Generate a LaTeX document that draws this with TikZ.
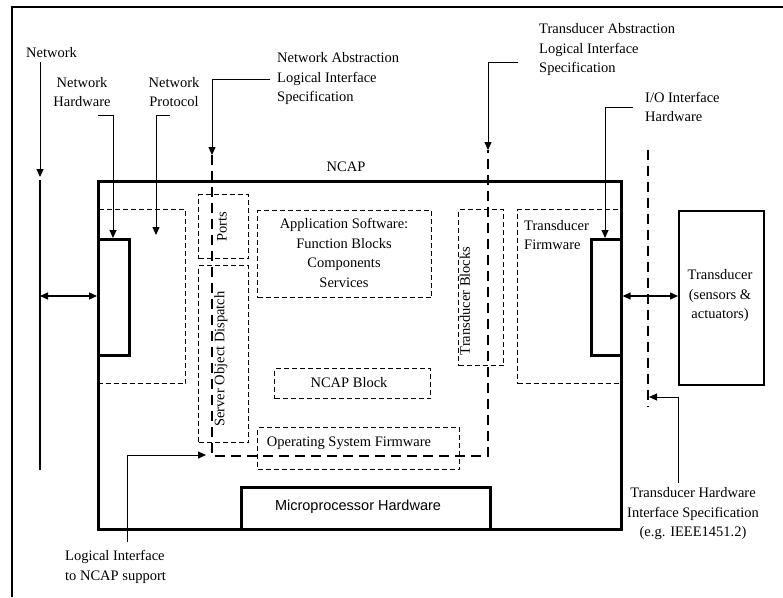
\documentclass[tikz,border=0pt]{standalone}
\usepackage{fontspec}
\setmainfont{Liberation Serif}
\newfontfamily\arialfont{Liberation Sans}
\usetikzlibrary{arrows.meta}

\begin{document}
\begin{tikzpicture}[x=1pt,y=-1pt,
  txt/.style={font=\fontsize{14.5}{19.5}\selectfont, inner sep=0pt, align=center},
  txtl/.style={txt, align=left, anchor=west},
  box/.style={draw, anchor=north west, inner sep=0pt, line width=1.3pt,
              dash pattern=on 5pt off 3pt},
  solidbox/.style={draw, anchor=north west, inner sep=0pt, line width=2.6pt},
  thickdash/.style={line width=2.8pt, dash pattern=on 10pt off 6pt},
  leader/.style={line width=1pt, -{Triangle[length=8pt,width=7pt]}},
  twoway/.style={line width=1.3pt, {Triangle[length=8pt,width=7pt]}-{Triangle[length=8pt,width=7pt]}}
]
\useasboundingbox (0,0) rectangle (783,597);
\fill[white] (0,0) rectangle (783,597);

% outer frame (top and left edges)
\draw[line width=1.6pt] (12,597) -- (12,7) -- (783,7);

% ---------- NCAP and its contents ----------
\node[solidbox, minimum width=523pt, minimum height=348pt] (ncap) at (97,180) {};
\node[txt] (ncaplbl) at (346,167) {NCAP};

\node[box, minimum width=88pt, minimum height=174pt] (netproto) at (97,209) {};
\node[solidbox, minimum width=31pt, minimum height=116pt] (nethw) at (97,238) {};

\node[box, minimum width=50pt, minimum height=64pt] (ports) at (198,194) {};
\node[txt, rotate=90] (portslbl) at (222,227) {Ports};
\node[box, minimum width=50pt, minimum height=177pt] (sod) at (198,265) {};
\node[txt, rotate=90] (sodlbl) at (221,359) {Server Object Dispatch};

\node[box, minimum width=174pt, minimum height=87pt] (app) at (257,210) {};
\node[txt] (applbl) at (344,253) {Application Software:\\Function Blocks\\Components\\Services};

\node[box, minimum width=45pt, minimum height=156pt] (tblocks) at (458,209) {};
\node[txt, rotate=90] (tblockslbl) at (465,301) {Transducer Blocks};

\node[box, minimum width=103pt, minimum height=174pt] (tfw) at (517,209) {};
\node[txtl] (tfwlbl) at (524,235) {Transducer\\Firmware};
\node[solidbox, minimum width=30pt, minimum height=116pt] (iohw) at (590,238) {};

\node[box, minimum width=156pt, minimum height=30pt] (ncapblock) at (274,368) {};
\node[txt] (ncapblocklbl) at (349,383) {NCAP Block};

\node[box, minimum width=202pt, minimum height=42pt] (os) at (257,427) {};
\node[txt] (oslbl) at (349,443) {Operating System Firmware};

\node[solidbox, minimum width=249pt, minimum height=42pt] (micro) at (240,486) {};
\node[txt, font=\arialfont\fontsize{14.5}{17}\selectfont] (microlbl) at (358,507) {Microprocessor Hardware};

% ---------- network side ----------
\coordinate (bartop) at (40,180);
\coordinate (barbot) at (40,470);
\draw[line width=2.8pt] (bartop) -- (barbot);
\draw[twoway] (40,296) -- (nethw.west |- 0,296);

\node[txtl] (netlbl) at (26,53) {Network};
\coordinate (netstart) at (40,62);
\draw[leader] (netstart) -- (40,177);

\node[txt] (nethwlbl) at (82,92) {Network\\Hardware};
\coordinate (nethwlead) at (98,115);
\draw[leader] (nethwlead) -- (113,115) -- (113 ,238);

\node[txt] (netprotolbl) at (174,92) {Network\\Protocol};
\coordinate (netprotolead) at (170,115);
\draw[leader] (netprotolead) -- (156,115) -- (156,235);

% ---------- transducer side ----------
\node[draw, anchor=north west, inner sep=0pt, line width=1.5pt,
      minimum width=85pt, minimum height=174pt] (trans) at (678,210) {};
\node[txt] (translbl) at (720,296) {Transducer\\(sensors \&\\actuators)};
\draw[twoway] (iohw.east |- 0,296) -- (trans.west |- 0,296);

\node[txtl] (iolbl) at (645,107) {I/O Interface\\Hardware};
\coordinate (iolead) at (633,107);
\draw[leader] (iolead) -- (605,107) -- (605,238);

% ---------- interface specifications ----------
\node[txtl] (nalbl) at (277,79) {Network Abstraction\\Logical Interface\\Specification};
\coordinate (nalead) at (270,79);
\coordinate (natop) at (212,155);
\draw[leader] (nalead) -- (212,79) -- (natop);

\node[txtl] (talbl) at (539,50) {Transducer Abstraction\\Logical Interface\\Specification};
\coordinate (talead) at (518,62);
\coordinate (tatop) at (488,150);
\draw[leader] (talead) -- (488,62) -- (tatop);

\draw[thickdash] (natop) -- (212,456) -- (488,456) -- (tatop);

\coordinate (thwtop) at (648,150);
\coordinate (thwbot) at (648,407);
\draw[thickdash] (thwtop) -- (thwbot);
\node[txt] (thwlbl) at (693,514) {Transducer Hardware\\Interface Specification\\(e.g. IEEE1451.2)};
\coordinate (thwlead) at (678,483);
\draw[leader] (thwlead) -- (678,397) -- (649,397);

\node[txtl] (lilbl) at (65,567) {Logical Interface\\to NCAP support};
\coordinate (lilead) at (127,542);
\draw[leader] (lilead) -- (127,455) -- (206,455);

\end{tikzpicture}
\end{document}
